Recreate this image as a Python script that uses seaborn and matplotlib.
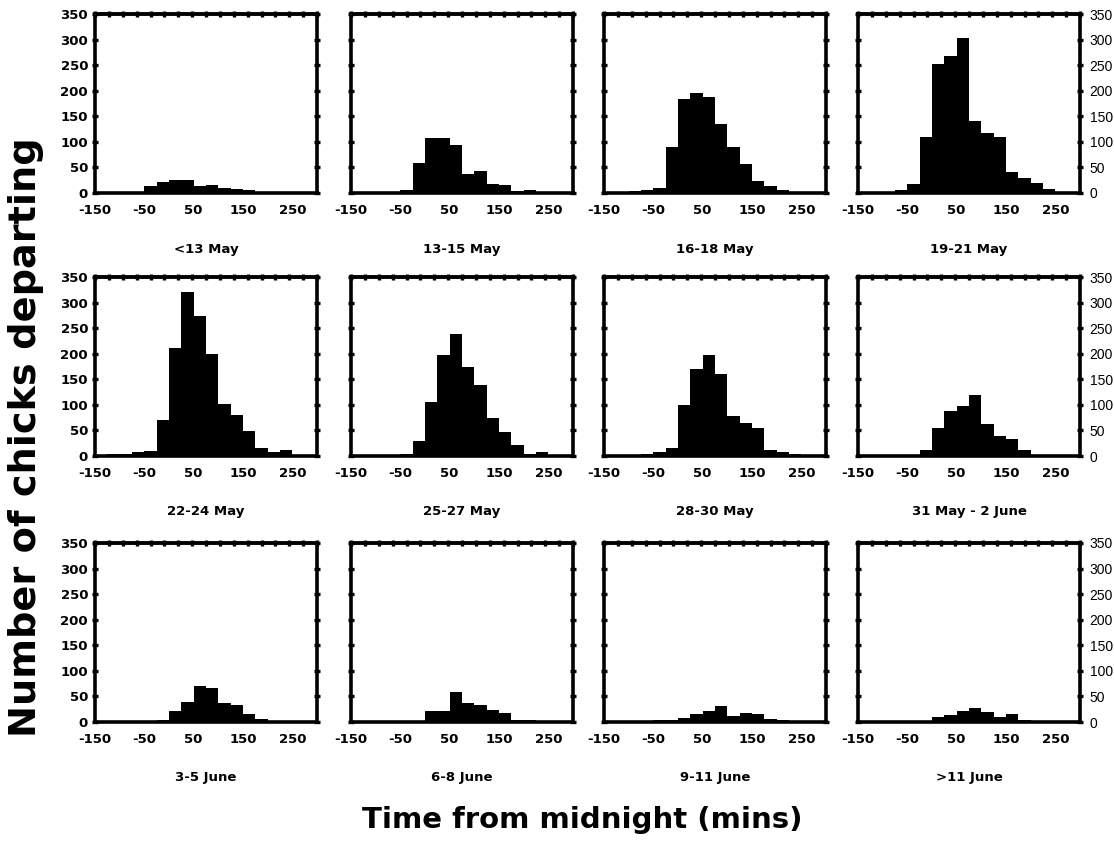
import numpy as np
import pandas as pd
import matplotlib
matplotlib.use("Agg")
import matplotlib.pyplot as plt
import seaborn as sns

# ---------------- data ----------------
bin_left = [-150, -125, -100, -75, -50, -25, 0, 25, 50, 75, 100, 125, 150, 175, 200, 225, 250, 275]
bin_width = 25

titles = ["<13 May", "13-15 May", "16-18 May", "19-21 May",
          "22-24 May", "25-27 May", "28-30 May", "31 May - 2 June",
          "3-5 June", "6-8 June", "9-11 June", ">11 June"]

counts_lt13may   = [1, 2, 1, 2, 13, 21, 26, 26, 14, 16, 9, 7, 5, 1, 1, 1, 1, 0]
counts_13_15may  = [1, 2, 1, 2, 5, 59, 107, 108, 94, 37, 43, 18, 16, 3, 6, 2, 1, 0]
counts_16_18may  = [1, 2, 3, 6, 10, 90, 183, 196, 187, 134, 90, 57, 24, 13, 5, 2, 1, 0]
counts_19_21may  = [1, 2, 2, 6, 18, 109, 252, 268, 303, 141, 117, 109, 41, 30, 19, 8, 2, 0]
counts_22_24may  = [2, 3, 3, 7, 9, 70, 212, 320, 273, 199, 101, 80, 49, 15, 8, 11, 2, 1]
counts_25_27may  = [1, 2, 1, 2, 3, 29, 106, 198, 239, 175, 138, 74, 47, 21, 4, 8, 2, 0]
counts_28_30may  = [1, 1, 2, 3, 8, 16, 99, 170, 198, 160, 79, 65, 54, 12, 8, 3, 1, 0]
counts_31may_2jun = [1, 1, 1, 1, 2, 11, 55, 88, 98, 119, 62, 40, 33, 12, 2, 1, 1, 0]
counts_3_5jun    = [1, 1, 1, 1, 2, 3, 22, 40, 71, 66, 38, 33, 16, 5, 2, 1, 1, 0]
counts_6_8jun    = [1, 1, 1, 1, 1, 2, 22, 21, 59, 37, 34, 24, 18, 4, 3, 2, 1, 0]
counts_9_11jun   = [1, 1, 1, 2, 3, 3, 8, 16, 22, 32, 11, 18, 15, 5, 3, 1, 0, 0]
counts_gt11jun   = [1, 1, 1, 1, 1, 1, 10, 13, 21, 28, 20, 10, 15, 3, 1, 1, 0, 0]

panel_counts = [counts_lt13may, counts_13_15may, counts_16_18may, counts_19_21may,
                counts_22_24may, counts_25_27may, counts_28_30may, counts_31may_2jun,
                counts_3_5jun, counts_6_8jun, counts_9_11jun, counts_gt11jun]

x_ticks = [-150, -100, -50, 0, 50, 100, 150, 200, 250, 300]
x_ticklabels = ["-150", "", "-50", "", "50", "", "150", "", "250", ""]
y_ticks = [0, 50, 100, 150, 200, 250, 300, 350]

# ---------------- style ----------------
sns.set_theme(style="white")
plt.rcParams['font.family'] = ['DejaVu Sans']
plt.rcParams['text.color'] = 'black'
plt.rcParams['axes.labelcolor'] = 'black'
plt.rcParams['xtick.color'] = 'black'
plt.rcParams['ytick.color'] = 'black'

W, H = 1114, 842
fig = plt.figure(figsize=(W / 100, H / 100), dpi=100)

col_left = [95, 351, 604, 858]
row_top = [14, 277, 543]
aw, ah = 222, 179

edges = list(bin_left) + [bin_left[-1] + bin_width]
centers = [b + bin_width / 2 for b in bin_left]

for i, (title, counts) in enumerate(zip(titles, panel_counts)):
    r, c = divmod(i, 4)
    ax = fig.add_axes([col_left[c] / W, 1 - (row_top[r] + ah) / H, aw / W, ah / H])
    df = pd.DataFrame({"t": centers, "n": counts})
    sns.histplot(data=df, x="t", weights="n", bins=edges, color="black",
                 alpha=1, edgecolor="black", linewidth=0, ax=ax)
    ax.set_xlim(-150, 300)
    ax.set_ylim(0, 350)
    ax.set_xlabel("")
    ax.set_ylabel("")
    for s in ax.spines.values():
        s.set_visible(True)
        s.set_linewidth(2.6)
        s.set_color("black")
    ax.set_xticks(x_ticks)
    ax.set_xticklabels(x_ticklabels, fontweight="bold", fontsize=9.5, color="black")
    ax.set_yticks(y_ticks)
    ax.tick_params(axis="both", which="both", direction="inout", length=4,
                   width=2.4, color="black", labelcolor="black")
    ax.tick_params(axis="x", pad=6, top=False)
    ax.tick_params(axis="y", left=True, right=True)
    if c == 0:
        ax.tick_params(axis="y", labelleft=True, labelright=False, pad=3)
        for lab in ax.get_yticklabels():
            lab.set_fontweight("bold")
            lab.set_fontsize(9.5)
            lab.set_color("black")
    elif c == 3:
        ax.tick_params(axis="y", labelleft=False, labelright=True, pad=5)
        for lab in ax.get_yticklabels():
            lab.set_fontweight("normal")
            lab.set_fontsize(10)
            lab.set_color("black")
            lab.set_family(["Liberation Sans", "DejaVu Sans"])
    else:
        ax.tick_params(axis="y", labelleft=False, labelright=False)
    top = ax.secondary_xaxis("top")
    top.set_xticks(np.linspace(-150, 300, 17))
    top.tick_params(direction="inout", length=4, width=2.4, color="black", labeltop=False)
    top.spines["top"].set_linewidth(2.6)
    ax.text(0.5, -56 / ah, title, transform=ax.transAxes, ha="center", va="center",
            fontsize=9.5, fontweight="bold", color="black")

fig.text(582 / W, 1 - 820 / H, "Time from midnight (mins)", ha="center", va="center",
         fontsize=21, fontweight="bold", color="black")
fig.text(26 / W, 1 - 437 / H, "Number of chicks departing", ha="center", va="center",
         rotation=90, fontsize=27.5, fontweight="bold", color="black")

fig.savefig("out.png", dpi=100, facecolor="white")
